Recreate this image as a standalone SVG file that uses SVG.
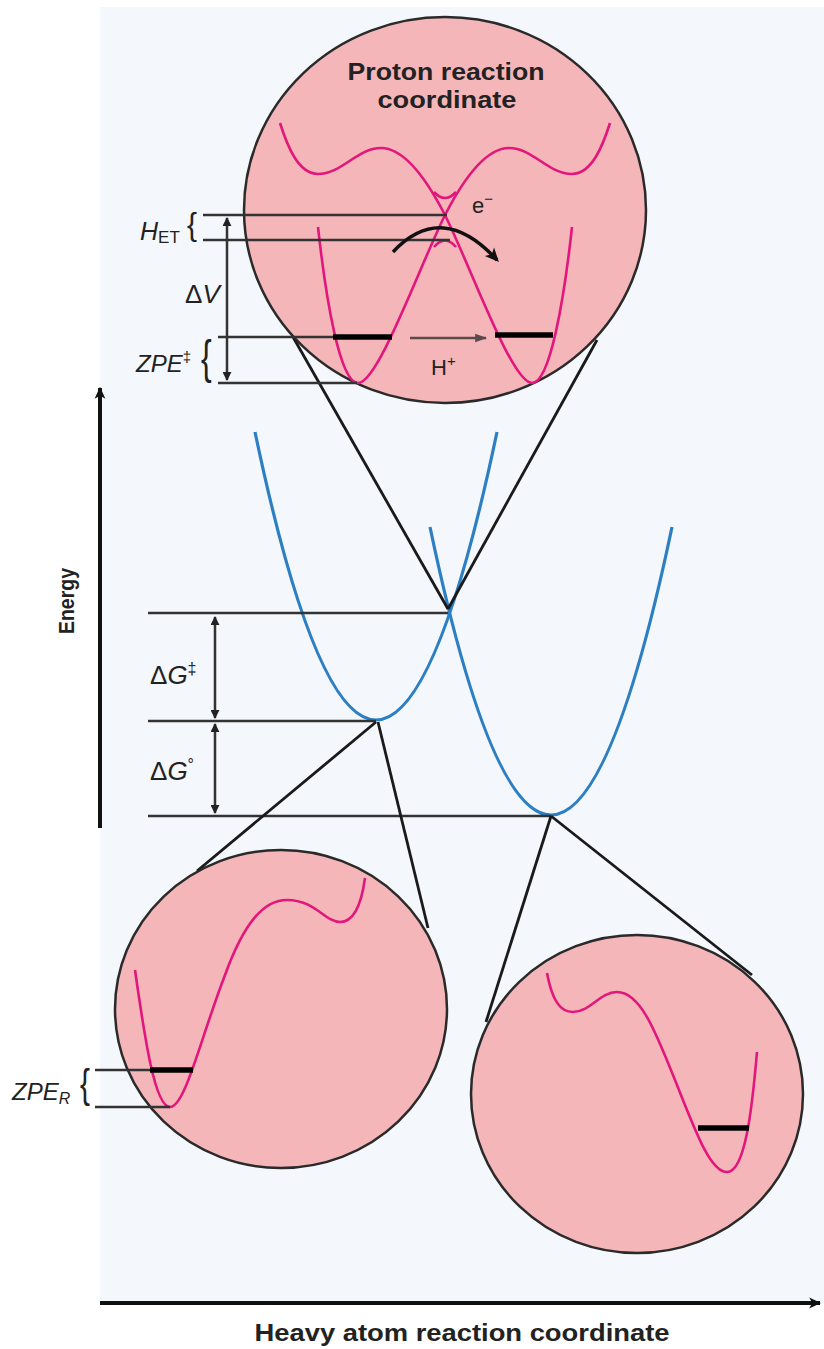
<svg xmlns="http://www.w3.org/2000/svg" width="824" height="1349" viewBox="0 0 824 1349">
<defs>
<style>
.bg{fill:#f4f7fb}
.ln{stroke:#333;stroke-width:2.5;fill:none}
.cn{stroke:#1a1a1a;stroke-width:2.8;fill:none}
.blue{stroke:#2c7fc3;stroke-width:3.2;fill:none}
.mag{stroke:#e2167c;stroke-width:2.6;fill:none}
.bub{fill:#f5b6b9;stroke:#2a2a2a;stroke-width:2.5}
.bar{stroke:#000;stroke-width:5.5}
.lbl{font-family:"Liberation Sans",Arial,sans-serif;fill:#222}
.bold{font-family:"Liberation Sans",Arial,sans-serif;font-weight:bold;fill:#222}
.br{font-family:"Liberation Sans",Arial,sans-serif;fill:#222}
</style>
<marker id="ah" viewBox="0 0 10 10" refX="9" refY="5" markerWidth="9" markerHeight="9" markerUnits="userSpaceOnUse" orient="auto-start-reverse">
<path d="M0,0 L10,5 L0,10 z" fill="#222"/>
</marker>
<marker id="axh" viewBox="0 0 10 10" refX="9" refY="5" markerWidth="12" markerHeight="12" markerUnits="userSpaceOnUse" orient="auto">
<path d="M0,0.5 L10,5 L0,9.5 L2.5,5 z" fill="#111"/>
</marker>
<marker id="eh" viewBox="0 0 10 10" refX="8" refY="5" markerWidth="14" markerHeight="14" markerUnits="userSpaceOnUse" orient="auto">
<path d="M0,0.5 L10,5 L0,9.5 L2.5,5 z" fill="#111"/>
</marker>
<marker id="hh" viewBox="0 0 10 10" refX="9" refY="5" markerWidth="12" markerHeight="12" markerUnits="userSpaceOnUse" orient="auto">
<path d="M0,1.5 L10,5 L0,8.5 z" fill="#5b4a4a"/>
</marker>
</defs>

<rect class="bg" x="100" y="7" width="724" height="1296"/>

<g id="axes">
<line x1="100" y1="828" x2="100" y2="388" stroke="#111" stroke-width="4" marker-end="url(#axh)"/>
<line x1="100" y1="1303" x2="820" y2="1303" stroke="#111" stroke-width="4" marker-end="url(#axh)"/>
<text class="bold" font-size="22" text-anchor="middle" transform="translate(74,601) rotate(-90)" textLength="66" lengthAdjust="spacingAndGlyphs">Energy</text>
<text class="bold" x="462" y="1341" font-size="23" text-anchor="middle" textLength="415" lengthAdjust="spacingAndGlyphs">Heavy atom reaction coordinate</text>
</g>

<g id="free-energy-curves">
<path class="blue" d="M255,432 Q376,1008 497,432"/>
<path class="blue" d="M430,527 Q551,1103 672,527"/>
</g>

<g id="energy-levels">
<line class="ln" x1="148" y1="613" x2="448" y2="613"/>
<line class="ln" x1="148" y1="721" x2="376" y2="721"/>
<line class="ln" x1="148" y1="816" x2="551" y2="816"/>
<line class="ln" x1="215" y1="617" x2="215" y2="718" marker-start="url(#ah)" marker-end="url(#ah)"/>
<line class="ln" x1="215" y1="724" x2="215" y2="813" marker-start="url(#ah)" marker-end="url(#ah)"/>
<text class="lbl" x="150" y="684" font-size="26">Δ<tspan font-style="italic">G</tspan><tspan font-size="16" dy="-10">‡</tspan></text>
<text class="lbl" x="150" y="780" font-size="26">Δ<tspan font-style="italic">G</tspan><tspan font-size="16" dy="-10">°</tspan></text>
</g>

<g id="connectors">
<line class="cn" x1="293" y1="337" x2="448" y2="609"/>
<line class="cn" x1="597" y1="340" x2="448" y2="609"/>
<line class="cn" x1="376" y1="722" x2="197" y2="871"/>
<line class="cn" x1="378" y1="722" x2="428" y2="928"/>
<line class="cn" x1="551" y1="816" x2="486" y2="1022"/>
<line class="cn" x1="551" y1="816" x2="752" y2="975"/>
</g>

<g id="ts-bubble">
<ellipse class="bub" cx="445" cy="210" rx="201" ry="193"/>
<text class="bold" x="446" y="80" font-size="24" text-anchor="middle" textLength="197" lengthAdjust="spacingAndGlyphs">Proton reaction</text>
<text class="bold" x="447" y="108" font-size="24" text-anchor="middle" textLength="139" lengthAdjust="spacingAndGlyphs">coordinate</text>
<path class="mag" d="M318,227 C326,300 340,383 358,383 C378,383 418,270 445,215 C462,182 485,148 509,148 C533,148 548,174 572,174 C592,174 603,145 610,123"/>
<path class="mag" d="M572,227 C564,300 550,383 532,383 C512,383 472,270 445,215 C428,182 405,148 381,148 C357,148 342,174 318,174 C298,174 287,145 280,123"/>
<path class="mag" d="M434,192 Q445,204 456,192"/>
<path class="mag" d="M434,247 Q445,234 456,247"/>
<line class="ln" x1="203" y1="215" x2="447" y2="215"/>
<line class="ln" x1="203" y1="240" x2="450" y2="240"/>
<line class="ln" x1="218" y1="337" x2="334" y2="337"/>
<line class="ln" x1="218" y1="383" x2="357" y2="383"/>
<line class="bar" x1="333" y1="337" x2="392" y2="337"/>
<line class="bar" x1="495" y1="335" x2="553" y2="335"/>
<line class="ln" x1="227" y1="218" x2="227" y2="380" marker-start="url(#ah)" marker-end="url(#ah)"/>
<path d="M393,252 Q442,200 497,260" stroke="#111" stroke-width="3.5" fill="none" marker-end="url(#eh)"/>
<line x1="410" y1="338" x2="486" y2="338" stroke="#5b4a4a" stroke-width="2.5" marker-end="url(#hh)"/>
<text class="lbl" x="472" y="213" font-size="22">e<tspan font-size="15" dy="-9">−</tspan></text>
<text class="lbl" x="431" y="375" font-size="22">H<tspan font-size="15" dy="-9">+</tspan></text>
<text class="lbl" x="140" y="240" font-size="25"><tspan font-style="italic">H</tspan><tspan font-size="17" dy="3">ET</tspan></text>
<text class="br" font-size="30" transform="translate(187,235) scale(1,1.05)">{</text>
<text class="lbl" x="185" y="303" font-size="26">Δ<tspan font-style="italic">V</tspan></text>
<text class="lbl" x="136" y="372" font-size="24"><tspan font-style="italic">ZPE</tspan><tspan font-size="15" dy="-10">‡</tspan></text>
<text class="br" font-size="32" transform="translate(201,373) scale(1,1.45)">{</text>
</g>

<g id="reactant-bubble">
<ellipse class="bub" cx="281" cy="1009" rx="166" ry="159"/>
<path class="mag" d="M135,970 C145,1040 155,1107 170,1107 C185,1107 200,1040 225,975 C245,920 265,900 287,900 C315,900 325,922 340,922 C355,922 362,900 365,878"/>
<line class="ln" x1="95" y1="1070" x2="152" y2="1070"/>
<line class="ln" x1="95" y1="1107" x2="170" y2="1107"/>
<line class="bar" x1="150" y1="1070" x2="193" y2="1070"/>
<text class="lbl" x="12" y="1100" font-size="24" font-style="italic">ZPE<tspan font-size="16" dy="4">R</tspan></text>
<text class="br" font-size="30" transform="translate(80,1098) scale(1,1.35)">{</text>
</g>

<g id="product-bubble">
<ellipse class="bub" cx="637" cy="1094" rx="166" ry="159"/>
<path class="mag" d="M547,973 C552,1000 560,1012 573,1012 C590,1012 600,992 617,992 C640,992 655,1030 675,1080 C695,1130 710,1172 727,1172 C745,1172 752,1110 757,1052"/>
<line class="bar" x1="698" y1="1128" x2="749" y2="1128"/>
</g>
</svg>
